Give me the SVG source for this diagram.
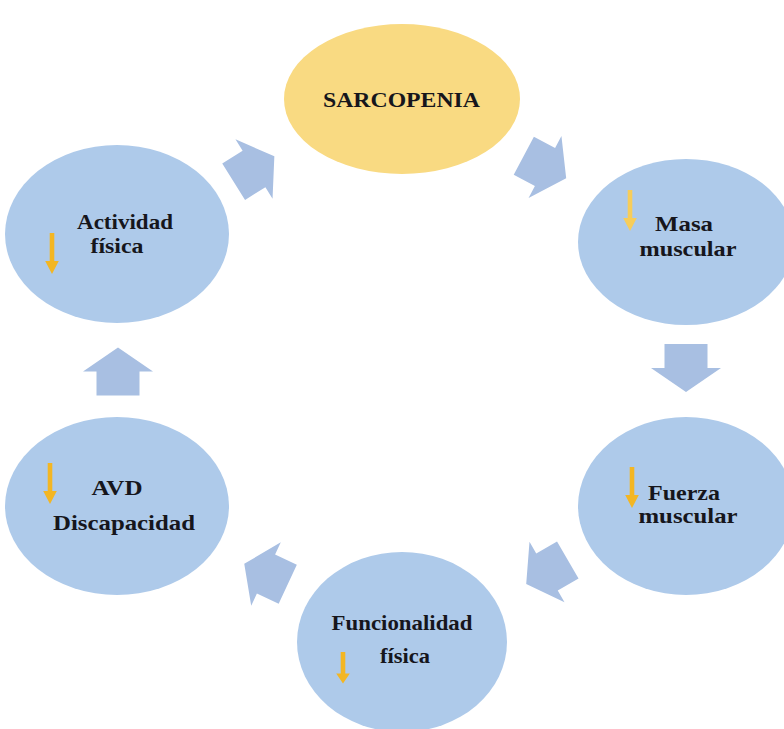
<svg xmlns="http://www.w3.org/2000/svg" width="784" height="729" viewBox="0 0 784 729">
  <style>
    .node-blue { fill: #AECAEA; }
    .node-gold { fill: #F9DA82; }
    .flow { fill: #A8BFE2; }
    .down { fill: #F3B623; }
    .down-light { fill: #F7CD5A; }
    .label { font-family: "Liberation Serif", "Times New Roman", serif; font-weight: bold; font-size: 22px; fill: #16161c; text-anchor: middle; }
  </style>
  <defs>
    <!-- block arrow pointing along +x, centred on the origin -->
    <path id="block" d="M-24,-21.5 L0,-21.5 L0,-35 L24,0 L0,35 L0,21.5 L-24,21.5 Z"/>
    <!-- small downward arrow, origin at top of shaft -->
    <path id="dec" d="M-2.3,0 L2.3,0 L2.3,28 L6.8,28 L0,41 L-6.8,28 L-2.3,28 Z"/>
  </defs>

  <rect width="784" height="729" fill="#ffffff"/>

  <g id="connectors">
    <use href="#block" class="flow" transform="translate(545,167) rotate(28)"/>
    <use href="#block" class="flow" transform="translate(686,368) rotate(90)"/>
    <use href="#block" class="flow" transform="translate(547,572) rotate(150)"/>
    <use href="#block" class="flow" transform="translate(266,574) rotate(205)"/>
    <use href="#block" class="flow" transform="translate(118,371.5) rotate(-90)"/>
    <use href="#block" class="flow" transform="translate(254,169) rotate(-32)"/>
  </g>

  <g id="sarcopenia">
    <ellipse class="node-gold" cx="402" cy="99" rx="118" ry="75"/>
    <text class="label" x="401.5" y="107" textLength="157" lengthAdjust="spacingAndGlyphs">SARCOPENIA</text>
  </g>

  <g id="masa-muscular">
    <ellipse class="node-blue" cx="686" cy="242" rx="108" ry="83"/>
    <use href="#dec" class="down-light" x="630" y="190"/>
    <text class="label" x="684" y="231" textLength="58" lengthAdjust="spacingAndGlyphs">Masa</text>
    <text class="label" x="688" y="256" textLength="97" lengthAdjust="spacingAndGlyphs">muscular</text>
  </g>

  <g id="fuerza-muscular">
    <ellipse class="node-blue" cx="686" cy="506" rx="108" ry="89"/>
    <use href="#dec" class="down" x="632" y="467"/>
    <text class="label" x="684" y="500" textLength="72" lengthAdjust="spacingAndGlyphs">Fuerza</text>
    <text class="label" x="688" y="523" textLength="99" lengthAdjust="spacingAndGlyphs">muscular</text>
  </g>

  <g id="funcionalidad-fisica">
    <ellipse class="node-blue" cx="402" cy="642" rx="105" ry="90"/>
    <use href="#dec" class="down" transform="translate(343,652) scale(1,0.77)"/>
    <text class="label" x="402" y="630" textLength="141" lengthAdjust="spacingAndGlyphs">Funcionalidad</text>
    <text class="label" x="405" y="663" textLength="50" lengthAdjust="spacingAndGlyphs">física</text>
  </g>

  <g id="avd-discapacidad">
    <ellipse class="node-blue" cx="117" cy="506" rx="112" ry="89"/>
    <use href="#dec" class="down" x="50" y="463"/>
    <text class="label" x="117" y="495" textLength="51" lengthAdjust="spacingAndGlyphs">AVD</text>
    <text class="label" x="124" y="530" textLength="142" lengthAdjust="spacingAndGlyphs">Discapacidad</text>
  </g>

  <g id="actividad-fisica">
    <ellipse class="node-blue" cx="117" cy="234" rx="112" ry="89"/>
    <use href="#dec" class="down" x="52" y="233"/>
    <text class="label" x="125" y="229" textLength="96" lengthAdjust="spacingAndGlyphs">Actividad</text>
    <text class="label" x="117" y="253" textLength="53" lengthAdjust="spacingAndGlyphs">física</text>
  </g>
</svg>
